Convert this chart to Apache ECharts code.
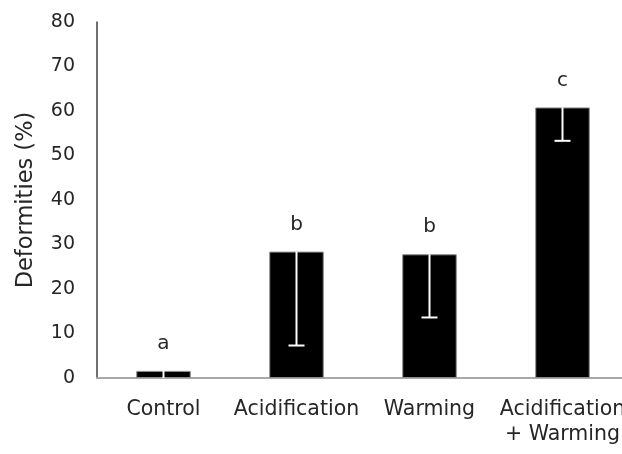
<!DOCTYPE html>
<html>
<head>
<meta charset="utf-8">
<script src="https://cdn.jsdelivr.net/npm/echarts@6/dist/echarts.min.js"></script>
<style>
  html, body { margin: 0; padding: 0; background: #fff; }
  #chart { width: 622px; height: 454px; }
</style>
</head>
<body>
<div id="chart"></div>
<script>
// Treatment groups, mean deformity rate (%) and standard error
const categories = ['Control', 'Acidification', 'Warming', 'Acidification\n+ Warming'];
const means = [1.6, 28.4, 27.8, 60.8];
const errors = [2.5, 21.1, 14.2, 7.5];
const letters = ['a', 'b', 'b', 'c'];
const yTicks = [0, 10, 20, 30, 40, 50, 60, 70, 80];

const FONT = '"DejaVu Sans", sans-serif';
const TEXT = '#262626';

const chart = echarts.init(document.getElementById('chart'), null, { renderer: 'canvas' });

const barData = means.map((v, i) => ({
  value: v,
  label: { distance: i === 0 ? 17 : 17 }
}));

const errData = means.map((v, i) => [i, v, errors[i]]);

chart.setOption({
  animation: false,
  grid: { left: 97, right: -7, top: 22, bottom: 76, outerBoundsMode: 'none' },
  xAxis: {
    type: 'category',
    data: categories,
    axisLine: { lineStyle: { color: '#a8a8a8', width: 2 } },
    axisTick: { show: false },
    axisLabel: {
      interval: 0,
      hideOverlap: false,
      color: TEXT, fontFamily: FONT, fontSize: 20.5, margin: 19, lineHeight: 25
    }
  },
  yAxis: {
    type: 'value',
    min: yTicks[0],
    max: yTicks[yTicks.length - 1],
    interval: 10,
    name: 'Deformities (%)',
    nameLocation: 'middle',
    nameGap: 59,
    nameTextStyle: { color: TEXT, fontFamily: FONT, fontSize: 22.5 },
    axisLine: { show: true, lineStyle: { color: '#404040', width: 1.5 } },
    axisTick: { show: false },
    splitLine: { show: false },
    axisLabel: { color: TEXT, fontFamily: FONT, fontSize: 19, margin: 22 }
  },
  series: [
    {
      type: 'bar',
      data: barData,
      barWidth: '41%',
      itemStyle: { color: '#000', borderColor: '#8c8c8c', borderWidth: 1 },
      label: {
        show: true,
        position: 'top',
        color: TEXT,
        fontFamily: FONT,
        fontSize: 20,
        formatter: p => letters[p.dataIndex]
      }
    },
    {
      type: 'custom',
      clip: true,
      data: errData,
      encode: { x: 0, y: 1 },
      renderItem: (params, api) => {
        const x = api.value(0);
        const mean = api.value(1);
        const err = api.value(2);
        const top = api.coord([x, mean]);
        const low = api.coord([x, mean - err]);
        const half = 8;
        const style = { stroke: '#ffffff', lineWidth: 2 };
        return {
          type: 'group',
          children: [
            { type: 'line', shape: { x1: top[0], y1: top[1], x2: low[0], y2: low[1] }, style },
            { type: 'line', shape: { x1: low[0] - half, y1: low[1], x2: low[0] + half, y2: low[1] }, style }
          ]
        };
      },
      z: 3
    }
  ]
});
</script>
</body>
</html>
